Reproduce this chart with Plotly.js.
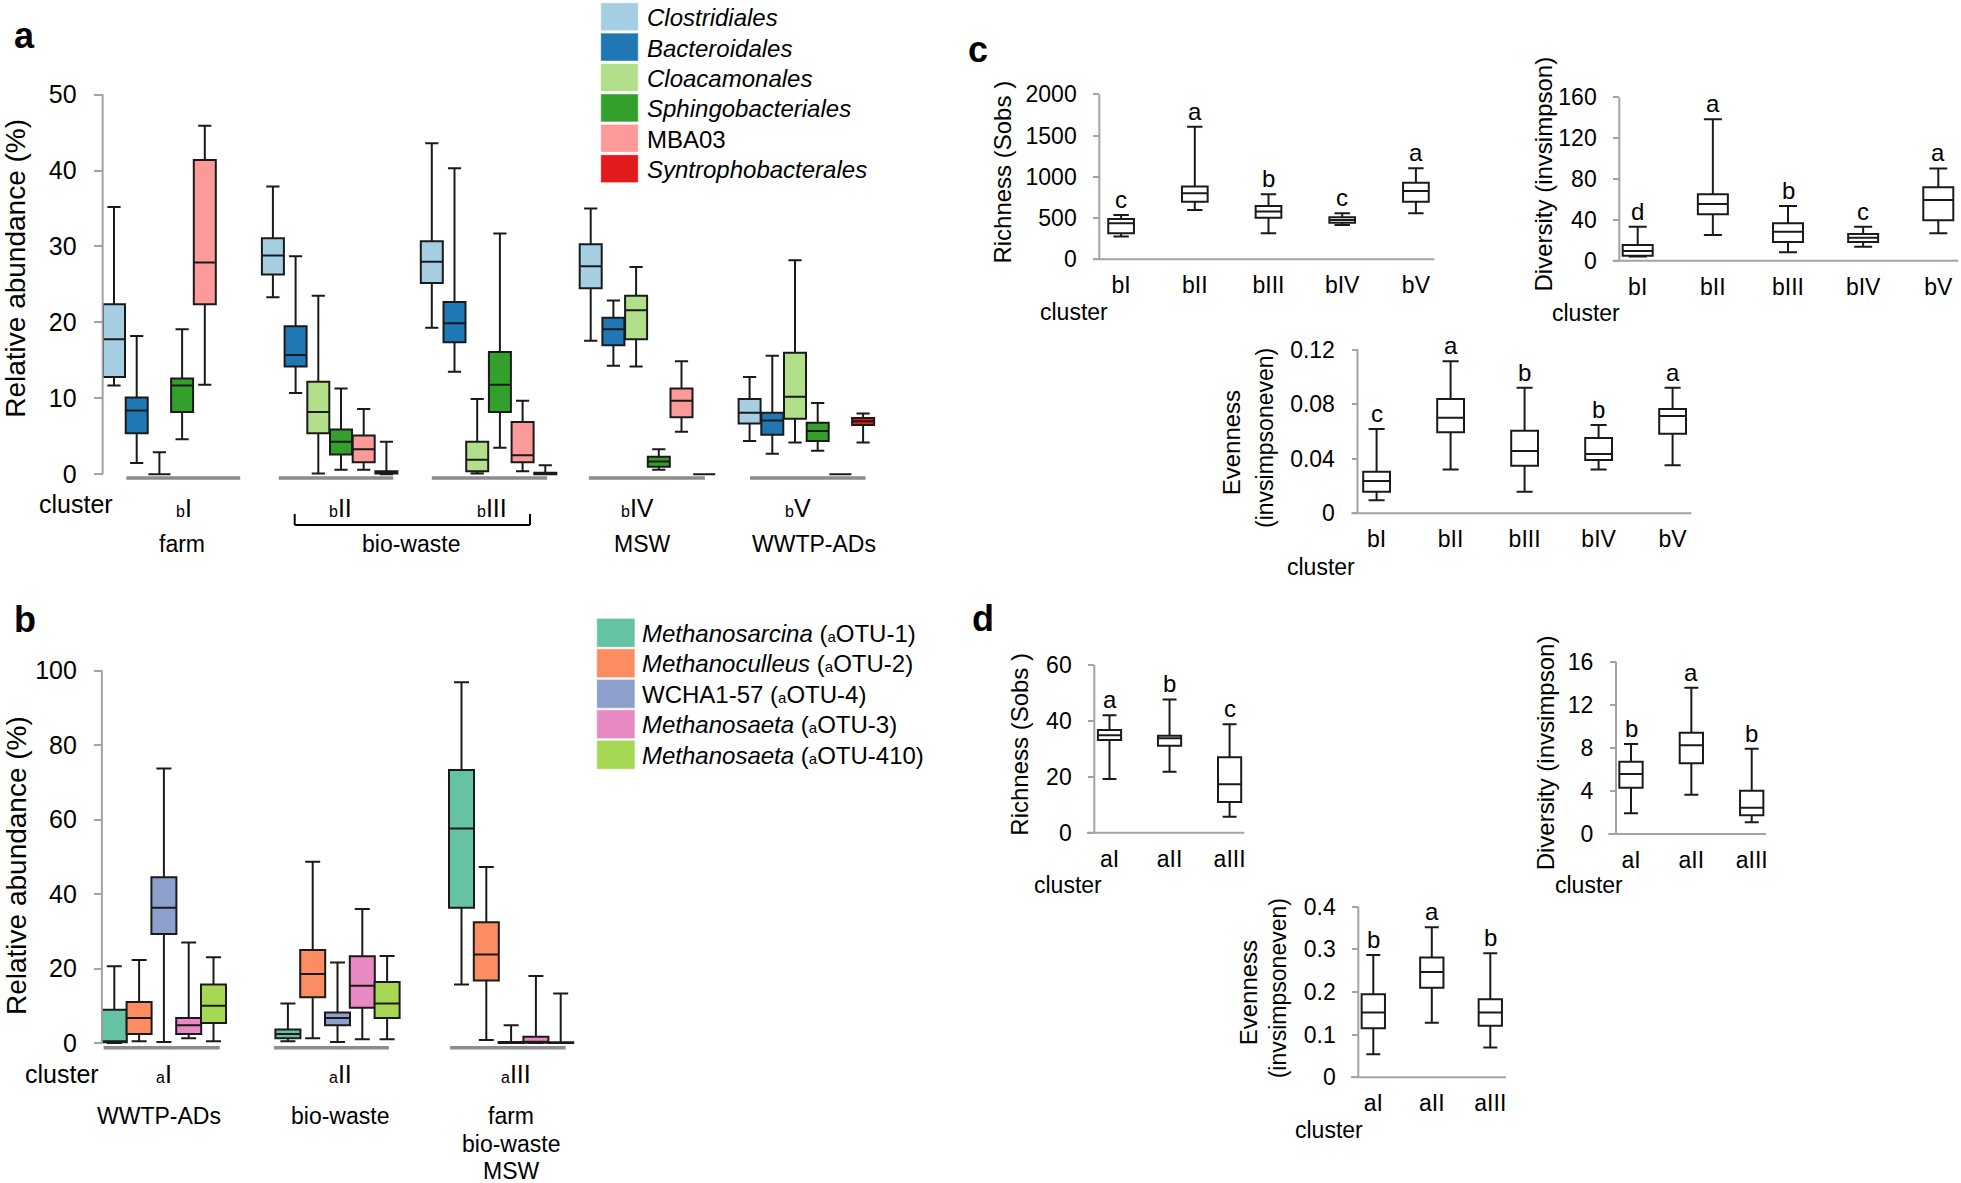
<!DOCTYPE html>
<html><head><meta charset="utf-8">
<script src="https://cdn.plot.ly/plotly-3.0.1.min.js"></script>
<style>html,body{margin:0;padding:0;background:#fff}#chart{width:1961px;height:1183px}</style>
</head><body><div id="chart"></div>
<script>
// ================= DATA =================
// Panel a: bacterial orders per cluster bI..bV (relative abundance %)
const aOrders = ['Clostridiales','Bacteroidales','Cloacamonales','Sphingobacteriales','MBA03','Syntrophobacterales'];
const aItalic = [true,true,true,true,false,true];
const aColors = ['#a6cee3','#1f78b4','#b2df8a','#33a02c','#fb9a99','#e31a1c'];
const aClusters = ['I','II','III','IV','V'];
const aSources = ['farm','bio-waste','MSW','WWTP-ADs'];
const aUpper = [[35.2,37.9,43.6,35.0,12.8],[18.2,28.7,40.3,22.9,15.6],[2.9,23.5,9.9,27.3,28.2],[19.1,11.3,31.7,3.3,9.4],[45.9,8.6,9.7,14.9,0],[null,4.3,1.2,0,8.0]];
const aQ3    = [[22.4,31.1,30.7,30.3,9.9],[10.1,19.5,22.7,20.6,8.1],[0,12.2,4.3,23.5,16.0],[12.6,5.9,16.1,2.3,6.8],[41.4,5.1,6.9,11.3,0],[null,0.4,0.2,0,7.4]];
const aMed   = [[17.8,28.8,28.0,27.4,8.1],[8.4,15.7,19.9,19.1,7.1],[0,8.2,1.9,21.6,10.2],[11.7,4.3,11.8,1.7,5.7],[27.9,3.3,2.5,9.7,0],[null,0.25,0.1,0,7.0]];
const aQ1    = [[12.8,26.3,25.2,24.5,6.7],[5.4,14.2,17.4,17.0,5.2],[0,5.4,0.4,17.8,7.3],[8.2,2.6,8.2,1.0,4.4],[22.4,1.6,1.6,7.5,0],[null,0.1,0,0,6.5]];
const aLower = [[11.7,23.3,19.3,17.6,4.4],[1.5,10.7,13.5,14.3,2.7],[0,0.1,0.1,14.2,4.2],[4.6,0.6,3.5,0.6,3.1],[11.8,0.6,0.4,5.6,0],[null,0,0,0,4.2]];

// Panel b: archaeal OTUs per cluster aI..aIII
const bTaxa = ['<i>Methanosarcina</i> (<span style="font-size:15px">a</span>OTU-1)','<i>Methanoculleus</i> (<span style="font-size:15px">a</span>OTU-2)','WCHA1-57 (<span style="font-size:15px">a</span>OTU-4)','<i>Methanosaeta</i> (<span style="font-size:15px">a</span>OTU-3)','<i>Methanosaeta</i> (<span style="font-size:15px">a</span>OTU-410)'];
const bColors = ['#66c2a5','#fc8d62','#8da0cb','#e78ac3','#a6d854'];
const bClusters = ['I','II','III'];
const bUpper = [[20.6,10.6,96.9],[22.3,48.7,47.3],[73.7,21.6,4.8],[27.0,36.0,18.0],[23.0,23.4,13.3]];
const bQ3    = [[8.9,3.6,73.3],[11.0,25.0,32.4],[44.5,8.2,0.3],[6.7,23.3,1.7],[15.7,16.4,0.2]];
const bMed   = [[0.5,2.4,57.6],[6.7,18.5,23.8],[36.3,6.7,0.1],[4.8,15.4,0.3],[10.0,10.6,0.1]];
const bQ1    = [[0.2,1.3,36.3],[2.4,12.3,16.8],[29.3,4.8,0],[2.4,9.5,0.1],[5.4,6.7,0]];
const bLower = [[0,0.5,15.7],[0.5,1.3,0.8],[0.3,0.3,0],[1.3,1.0,0],[0.5,1.0,0]];
const bSources = [['WWTP-ADs'],['bio-waste'],['farm','bio-waste','MSW']];

// Panel c: bacterial alpha diversity per cluster
const cLabels = ['bI','bII','bIII','bIV','bV'];
const cRichUpper = [537,1608,788,558,1103], cRichQ3=[489,881,646,509,929], cRichMed=[436,800,578,477,828], cRichQ1=[315,699,505,444,699], cRichLower=[275,598,315,416,558];
const cRichSig = ['c','a','b','c','a'];
const cDivUpper = [33.3,138.4,53.5,33.3,90.4], cDivQ3=[15.3,65,36.6,26.1,71.8], cDivMed=[9.5,55.5,28.4,22.5,59.4], cDivQ1=[4.9,45.4,18.3,18.3,39.5], cDivLower=[4.0,25.1,8.2,13.7,26.8];
const cDivSig = ['d','a','b','c','a'];
const cEvUpper = [0.062,0.1117,0.0923,0.0649,0.0923], cEvQ3=[0.0306,0.084,0.0607,0.0553,0.0767], cEvMed=[0.0238,0.0703,0.0458,0.0436,0.0715], cEvQ1=[0.0159,0.0595,0.035,0.0392,0.0585], cEvLower=[0.0096,0.0321,0.0159,0.0321,0.0353];
const cEvSig = ['c','a','b','b','a'];

// Panel d: archaeal alpha diversity per cluster
const dLabels = ['aI','aII','aIII'];
const dRichUpper=[42,47.7,38.8], dRichQ3=[36.7,34.7,27], dRichMed=[34.9,33.8,17.3], dRichQ1=[33.2,31.1,11], dRichLower=[19.2,21.8,5.7];
const dRichSig=['a','b','c'];
const dDivUpper=[8.36,13.59,7.92], dDivQ3=[6.72,9.41,4.02], dDivMed=[5.57,8.23,2.44], dDivQ1=[4.3,6.56,1.73], dDivLower=[1.92,3.65,1.08];
const dDivSig=['b','a','b'];
const dEvUpper=[0.287,0.352,0.291], dEvQ3=[0.195,0.281,0.183], dEvMed=[0.152,0.247,0.152], dEvQ1=[0.115,0.210,0.121], dEvLower=[0.054,0.128,0.070];
const dEvSig=['b','a','b'];

// ================= LAYOUT HELPERS =================
const W=1961, H=1183;
const FONT='Arial, "Liberation Sans", sans-serif';
const AXC='#a3a3a3';
const fx = p => p/W, fy = p => 1 - p/H;

// subplot geometry in pixels
const G = {
  a:  {n:'',  x0:114,    du:22.7,  left:102.65, right:905,    y0:474.3, yt:94.6,  vt:50,   top:94.6,  bot:479.5, axis:102.65, tl:9, fs:25, tv:[0,10,20,30,40,50]},
  b:  {n:'2', x0:114.3,  du:24.8,  left:101.9,  right:615,    y0:1043,  yt:670.7, vt:100,  top:670.7, bot:1050,  axis:101.9,  tl:8, fs:25, tv:[0,20,40,60,80,100]},
  c1: {n:'3', x0:1121.1, du:73.7,  left:1092.9, right:1434.3, y0:259.3, yt:94.3,  vt:2000, top:94.3,  bot:259.3, axis:1099.3, tl:6, fs:23, tv:[0,500,1000,1500,2000]},
  c2: {n:'4', x0:1637.7, du:75.15, left:1612.7, right:1958.3, y0:260.7, yt:97.3,  vt:160,  top:97.3,  bot:260.7, axis:1619.3, tl:6, fs:23, tv:[0,40,80,120,160]},
  c3: {n:'5', x0:1376.6, du:74,    left:1351.4, right:1691.4, y0:513.3, yt:350,   vt:0.12, top:350,   bot:513.3, axis:1357.5, tl:6, fs:23, tv:[0,0.04,0.08,0.12], tt:['0','0.04','0.08','0.12']},
  d1: {n:'6', x0:1109.5, du:60.05, left:1087,   right:1244.3, y0:832.7, yt:665,   vt:60,   top:665,   bot:832.7, axis:1094.3, tl:6, fs:23, tv:[0,20,40,60]},
  d2: {n:'7', x0:1631,   du:60.35, left:1608.3, right:1766,   y0:834,   yt:661.7, vt:16,   top:661.7, bot:834,   axis:1616,   tl:6, fs:23, tv:[0,4,8,12,16]},
  d3: {n:'8', x0:1373.3, du:58.5,  left:1350.7, right:1506,   y0:1077.3,yt:906.7, vt:0.4,  top:906.7, bot:1077.3,axis:1358.3, tl:6, fs:23, tv:[0,0.1,0.2,0.3,0.4], tt:['0','0.1','0.2','0.3','0.4']}
};
const valAt = (g,p) => (g.y0 - p)/(g.y0 - g.yt)*g.vt;

const layout = {
  width:W, height:H, margin:{l:0,r:0,t:0,b:0}, paper_bgcolor:'#fff', plot_bgcolor:'rgba(0,0,0,0)',
  showlegend:false, boxmode:'overlay', font:{family:FONT, color:'#000'},
  shapes:[], annotations:[]
};
const shapes = layout.shapes, anns = layout.annotations;

function ann(x, y, text, size, o){
  anns.push(Object.assign({xref:'paper', yref:'paper', x:fx(x), y:fy(y), text:text, showarrow:false,
    font:{family:FONT, size:size, color:'#000'}, xanchor:'center', yanchor:'middle'}, o||{}));
}
function line(x0,y0,x1,y1,color,w){
  shapes.push({type:'line', xref:'paper', yref:'paper', x0:fx(x0), y0:fy(y0), x1:fx(x1), y1:fy(y1), line:{color:color, width:w}});
}

for (const k in G){
  const g = G[k];
  const xa = 'xaxis'+g.n, ya = 'yaxis'+g.n;
  layout[xa] = {domain:[fx(g.left), fx(g.right)], range:[(g.left-g.x0)/g.du, (g.right-g.x0)/g.du],
    anchor:'y'+g.n, showgrid:false, zeroline:false, showline:false, ticks:'', showticklabels:false, fixedrange:true};
  layout[ya] = {domain:[fy(g.bot), fy(g.top)], range:[valAt(g,g.bot), valAt(g,g.top)],
    anchor:'free', position:fx(g.axis), showgrid:false, zeroline:false, showline:false,
    ticks:'outside', ticklen:g.tl, tickwidth:2, tickcolor:AXC, tickvals:g.tv, ticktext:g.tt||g.tv.map(String),
    tickfont:{family:FONT, size:g.fs, color:'#000'}, ticklabelstandoff:12, fixedrange:true};
  // y axis line from 0 to top value
  line(g.axis, g.y0, g.axis, g.yt, AXC, 2);
}

const traces = [];
function boxes(key, xs, up, q3, med, q1, lo, color, wpx){
  const g = G[key];
  const keep = xs.map((_,i)=>up[i]!==null);
  const f = a => a.filter((_,i)=>keep[i]);
  traces.push({type:'box', xaxis:'x'+g.n, yaxis:'y'+g.n, x:f(xs), q1:f(q1), median:f(med), q3:f(q3),
    lowerfence:f(lo), upperfence:f(up), fillcolor:color, line:{color:'#1a1a1a', width:2},
    width:wpx/g.du, whiskerwidth:0.6, boxpoints:false, hoverinfo:'skip', showlegend:false});
}

// ----- Panel a -----
aOrders.forEach((o,s)=>{
  const xs = aClusters.map((_,c)=>c*7+s);
  boxes('a', xs, aUpper[s], aQ3[s], aMed[s], aQ1[s], aLower[s], aColors[s], 22);
});
const aBase = [[0.54,5.56],[0.26,5.3],[0,5.08],[-0.08,5.03],[0.02,5.11]];
aBase.forEach((b,c)=>shapes.push({type:'line', xref:'x', yref:'paper', x0:c*7+b[0], x1:c*7+b[1], y0:fy(477.9), y1:fy(477.9), line:{color:'#8c8c8c', width:3.5}}));
const aLabOff = [3.07,2.99,2.63,2.05,2.15];
aClusters.forEach((c,i)=>anns.push({xref:'x', yref:'paper', x:i*7+aLabOff[i], y:fy(508), showarrow:false,
  text:'<span style="font-size:16px">b</span>'+c, font:{family:FONT,size:25,color:'#000'}, xanchor:'center', yanchor:'middle'}));
ann(75.6, 504, 'cluster', 25);
const aSrcX = [181.8, 411.4, 642.5, 814];
aSources.forEach((s,i)=>ann(aSrcX[i], 544, s, 23));
line(294.7,514,294.7,525,'#000',2); line(294.7,525,530,525,'#000',2); line(530,525,530,514,'#000',2);
ann(16, 268.8, 'Relative abundance (%)', 28, {textangle:-90});
ann(24, 35, '<b>a</b>', 36);
// legend a
aOrders.forEach((o,i)=>{
  const t = 2.7 + 30.4*i;
  shapes.push({type:'rect', xref:'paper', yref:'paper', x0:fx(600.7), x1:fx(638.3), y0:fy(t), y1:fy(t+28), fillcolor:aColors[i], line:{color:'rgba(255,255,255,0.6)', width:1}});
  ann(645, t+15, aItalic[i] ? '<i>'+o+'</i>' : o, 24, {xanchor:'left'});
});

// ----- Panel b -----
bTaxa.forEach((o,s)=>{
  const xs = bClusters.map((_,c)=>c*7+s);
  boxes('b', xs, bUpper[s], bQ3[s], bMed[s], bQ1[s], bLower[s], bColors[s], 25);
});
const bBase = [[-0.43,4.25],[-0.56,4.07],[-0.46,4.2]];
bBase.forEach((b,c)=>shapes.push({type:'line', xref:'x2', yref:'paper', x0:c*7+b[0], x1:c*7+b[1], y0:fy(1047.7), y1:fy(1047.7), line:{color:'#8c8c8c', width:3.5}}));
const bLabOff = [2.0,2.14,2.2];
bClusters.forEach((c,i)=>anns.push({xref:'x2', yref:'paper', x:i*7+bLabOff[i], y:fy(1073.7), showarrow:false,
  text:'<span style="font-size:16px">a</span>'+c, font:{family:FONT,size:25,color:'#000'}, xanchor:'center', yanchor:'middle'}));
ann(61.6, 1073.7, 'cluster', 25);
const bSrcX = [158.6, 340.2, 511];
bSources.forEach((lines,i)=>lines.forEach((s,j)=>ann(bSrcX[i], 1115.8 + 27.8*j, s, 23)));
ann(16, 866, 'Relative abundance (%)', 28, {textangle:-90});
ann(25, 620, '<b>b</b>', 36);
bTaxa.forEach((o,i)=>{
  const t = 618.3 + 30.5*i;
  shapes.push({type:'rect', xref:'paper', yref:'paper', x0:fx(596.7), x1:fx(635), y0:fy(t), y1:fy(t+29), fillcolor:bColors[i], line:{color:'rgba(255,255,255,0.6)', width:1}});
  ann(640, t+15, o, 24, {xanchor:'left'});
});

// ----- Panels c and d -----
function small(key, labels, up, q3, med, q1, lo, sig, wpx){
  const g = G[key];
  const xs = labels.map((_,i)=>i);
  boxes(key, xs, up, q3, med, q1, lo, '#ffffff', wpx);
  const xa = layout['xaxis'+g.n];
  Object.assign(xa, {showticklabels:true, tickvals:xs, ticktext:labels, tickfont:{family:FONT,size:23,color:'#000'}, ticklabelstandoff:10});
  // x axis line
  line(g.left, g.y0, g.right, g.y0, AXC, 2);
  sig.forEach((s,i)=>anns.push({xref:'x'+g.n, yref:'y'+g.n, x:i, y:up[i], text:s, showarrow:false,
    font:{family:FONT,size:24,color:'#000'}, xanchor:'center', yanchor:'bottom'}));
}
small('c1', cLabels, cRichUpper, cRichQ3, cRichMed, cRichQ1, cRichLower, cRichSig, 25.7);
small('c2', cLabels, cDivUpper, cDivQ3, cDivMed, cDivQ1, cDivLower, cDivSig, 30);
small('c3', cLabels, cEvUpper, cEvQ3, cEvMed, cEvQ1, cEvLower, cEvSig, 26.8);
small('d1', dLabels, dRichUpper, dRichQ3, dRichMed, dRichQ1, dRichLower, dRichSig, 23.2);
small('d2', dLabels, dDivUpper, dDivQ3, dDivMed, dDivQ1, dDivLower, dDivSig, 23.3);
small('d3', dLabels, dEvUpper, dEvQ3, dEvMed, dEvQ1, dEvLower, dEvSig, 23.3);

ann(1074.3, 311.7, 'cluster', 23);
ann(1585.8, 313.3, 'cluster', 23);
ann(1321, 566.7, 'cluster', 23);
ann(1067.7, 885, 'cluster', 23);
ann(1589, 885, 'cluster', 23);
ann(1328.7, 1130, 'cluster', 23);
ann(1002.9, 171.7, 'Richness (Sobs )', 24, {textangle:-90});
ann(1543.3, 174.2, 'Diversity (invsimpson)', 24, {textangle:-90});
ann(1231.8, 442.5, 'Evenness', 24, {textangle:-90});
ann(1265.7, 438.3, '(invsimpsoneven)', 23, {textangle:-90});
ann(1019.5, 744.2, 'Richness (Sobs )', 24, {textangle:-90});
ann(1545, 753.3, 'Diversity (invsimpson)', 24, {textangle:-90});
ann(1248.3, 993, 'Evenness', 24, {textangle:-90});
ann(1278.3, 988, '(invsimpsoneven)', 23, {textangle:-90});
ann(978, 50, '<b>c</b>', 36);
ann(983, 618, '<b>d</b>', 36);

Plotly.newPlot('chart', traces, layout, {displayModeBar:false, staticPlot:true});
</script></body></html>
